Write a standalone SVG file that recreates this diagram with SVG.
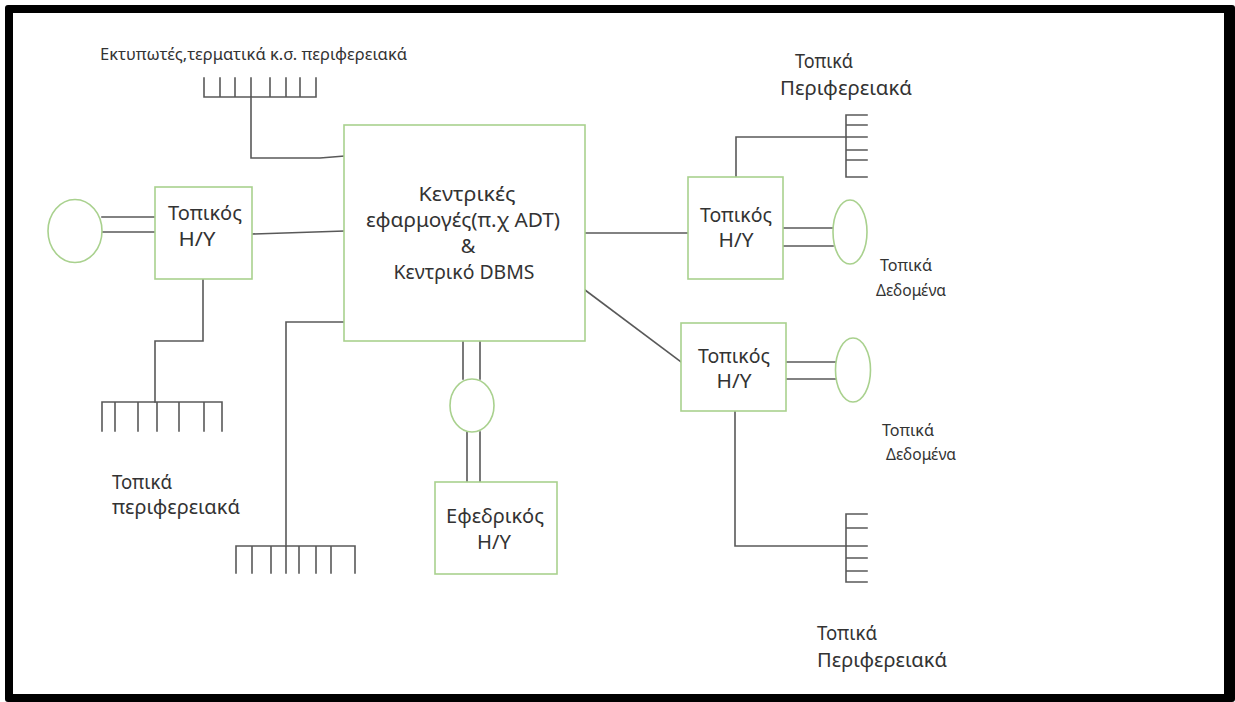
<svg xmlns="http://www.w3.org/2000/svg" width="1235" height="702" viewBox="0 0 1235 702">
  <style>
    .node { fill: #ffffff; stroke: #a9d18e; stroke-width: 1.6; }
    .disk { fill: #ffffff; stroke: #a9d18e; stroke-width: 1.6; }
    .wire { fill: none; stroke: #595959; stroke-width: 1.6; stroke-linecap: square; }
    text { font-family: "Noto Sans", "DejaVu Sans", sans-serif; fill: #333333; }
    .lbl { font-size: 20px; }
    .ctr { font-size: 20px; text-anchor: middle; }
    .small { font-size: 17px; }
  </style>

  <!-- page frame -->
  <rect x="5" y="5" width="1230" height="697" rx="3" fill="#000000"/>
  <rect x="13" y="13" width="1211" height="681" fill="#ffffff"/>

  <!-- connectors and peripheral bus combs -->
  <g id="connectors" class="wire">
    <!-- top printer/terminal comb -->
    <path d="M204 97 H316 M204 78 V97 M220 78 V97 M235 78 V97 M251 78 V97 M270 78 V97 M286 78 V97 M300 78 V97 M316 78 V97"/>
    <path d="M251 97 V158 H320 L344 156"/>

    <!-- left local PC links -->
    <path d="M102 217 H155 M102 232 H155"/>
    <path d="M252 234 L344 231"/>
    <path d="M203 279 V341 H155 V402"/>
    <path d="M102 402 H222 M102 402 V431 M115 402 V431 M138 402 V431 M157 402 V431 M179 402 V431 M204 402 V431 M222 402 V431"/>

    <!-- central host to lower-left comb -->
    <path d="M344 322 H286 V546"/>
    <path d="M236 546 H355 M236 546 V573 M252 546 V573 M271 546 V573 M286 546 V573 M299 546 V573 M316 546 V573 M331 546 V573 M355 546 V573"/>

    <!-- central host to backup storage and backup PC -->
    <path d="M463 341 V379 M480 341 V379"/>
    <path d="M467 432 V482 M480 432 V482"/>

    <!-- right upper local PC -->
    <path d="M585 233 H688"/>
    <path d="M736 177 V137 H846"/>
    <path d="M846 115 V177 M846 115 H867 M846 125 H867 M846 137 H867 M846 150 H867 M846 160 H867 M846 177 H867"/>
    <path d="M783 228 H833 M783 246 H833"/>

    <!-- right lower local PC -->
    <path d="M585 290 L681 362"/>
    <path d="M786 362 H836 M786 379 H836"/>
    <path d="M735 411 V546 H846"/>
    <path d="M846 514 V582 M846 514 H867 M846 528 H867 M846 546 H867 M846 558 H867 M846 571 H867 M846 582 H867"/>
  </g>

  <!-- central host -->
  <g id="central-host">
    <rect class="node" x="344" y="125" width="241" height="216"/>
    <text class="ctr" x="467" y="201" textLength="97" lengthAdjust="spacingAndGlyphs">Κεντρικές</text>
    <text class="ctr" x="463" y="227" textLength="194" lengthAdjust="spacingAndGlyphs">εφαρμογές(π.χ ADT)</text>
    <text class="ctr" x="468" y="253">&amp;</text>
    <text class="ctr" x="464" y="279" textLength="141" lengthAdjust="spacingAndGlyphs">Κεντρικό DBMS</text>
  </g>

  <!-- left local PC with its storage -->
  <g id="local-pc-left">
    <rect class="node" x="155" y="187" width="97" height="92"/>
    <text class="ctr" x="205" y="220" textLength="74" lengthAdjust="spacingAndGlyphs">Τοπικός</text>
    <text class="ctr" x="197" y="246" textLength="37" lengthAdjust="spacingAndGlyphs">Η/Υ</text>
  </g>
  <g id="storage-left">
    <ellipse class="disk" cx="75" cy="231" rx="27" ry="31.5"/>
  </g>

  <!-- right upper local PC with its storage -->
  <g id="local-pc-right-top">
    <rect class="node" x="688" y="177" width="95" height="102"/>
    <text class="ctr" x="736" y="222" textLength="72" lengthAdjust="spacingAndGlyphs">Τοπικός</text>
    <text class="ctr" x="736" y="247" textLength="35" lengthAdjust="spacingAndGlyphs">Η/Υ</text>
  </g>
  <g id="storage-right-top">
    <ellipse class="disk" cx="850" cy="232" rx="17" ry="32"/>
  </g>

  <!-- right lower local PC with its storage -->
  <g id="local-pc-right-bottom">
    <rect class="node" x="681" y="323" width="105" height="88"/>
    <text class="ctr" x="734" y="363" textLength="72" lengthAdjust="spacingAndGlyphs">Τοπικός</text>
    <text class="ctr" x="734" y="388" textLength="35" lengthAdjust="spacingAndGlyphs">Η/Υ</text>
  </g>
  <g id="storage-right-bottom">
    <ellipse class="disk" cx="853" cy="370" rx="17.5" ry="32"/>
  </g>

  <!-- backup storage and backup PC -->
  <g id="backup-storage">
    <ellipse class="disk" cx="472" cy="405.5" rx="22" ry="26.5"/>
  </g>
  <g id="backup-pc">
    <rect class="node" x="435" y="482" width="122" height="92"/>
    <text class="ctr" x="495" y="523" textLength="98" lengthAdjust="spacingAndGlyphs">Εφεδρικός</text>
    <text class="ctr" x="494" y="549" textLength="34" lengthAdjust="spacingAndGlyphs">Η/Υ</text>
  </g>

  <!-- peripheral and data labels -->
  <g id="label-printers">
    <text class="small" x="100" y="60" textLength="307" lengthAdjust="spacingAndGlyphs">Εκτυπωτές,τερματικά κ.σ. περιφερειακά</text>
  </g>
  <g id="label-left-peripherals">
    <text class="lbl" x="112" y="489" textLength="60" lengthAdjust="spacingAndGlyphs">Τοπικά</text>
    <text class="lbl" x="112" y="514" textLength="128" lengthAdjust="spacingAndGlyphs">περιφερειακά</text>
  </g>
  <g id="label-top-right-peripherals">
    <text class="lbl" x="795" y="68" textLength="58" lengthAdjust="spacingAndGlyphs">Τοπικά</text>
    <text class="lbl" x="780" y="95" textLength="132" lengthAdjust="spacingAndGlyphs">Περιφερειακά</text>
  </g>
  <g id="label-data-top">
    <text class="small" x="880" y="271" textLength="52" lengthAdjust="spacingAndGlyphs">Τοπικά</text>
    <text class="small" x="876" y="296" textLength="70" lengthAdjust="spacingAndGlyphs">Δεδομένα</text>
  </g>
  <g id="label-data-bottom">
    <text class="small" x="882" y="436" textLength="52" lengthAdjust="spacingAndGlyphs">Τοπικά</text>
    <text class="small" x="886" y="460" textLength="70" lengthAdjust="spacingAndGlyphs">Δεδομένα</text>
  </g>
  <g id="label-bottom-right-peripherals">
    <text class="lbl" x="817" y="640" textLength="60" lengthAdjust="spacingAndGlyphs">Τοπικά</text>
    <text class="lbl" x="817" y="667" textLength="130" lengthAdjust="spacingAndGlyphs">Περιφερειακά</text>
  </g>
</svg>
